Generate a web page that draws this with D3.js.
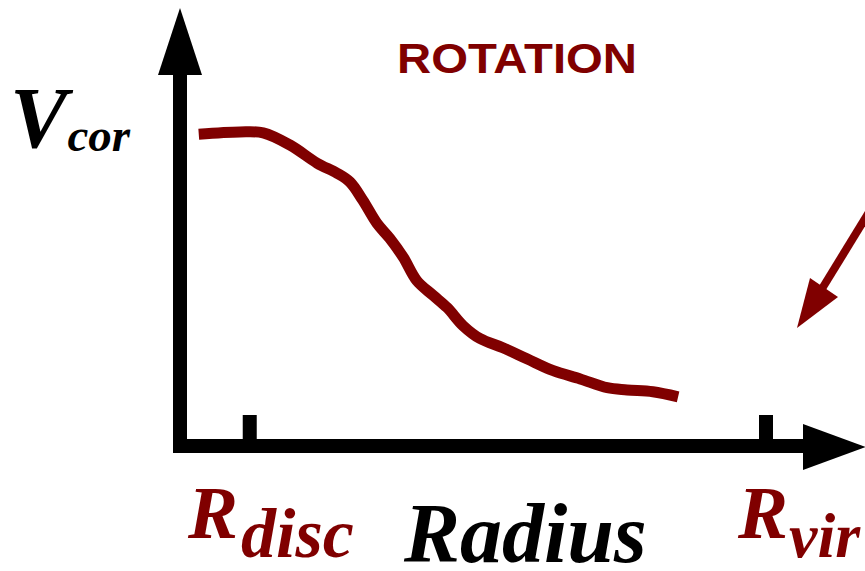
<!DOCTYPE html>
<html>
<head>
<meta charset="utf-8">
<script src="https://cdn.jsdelivr.net/npm/d3@7"></script>
<style>
  html, body { margin: 0; padding: 0; background: #fff; }
  svg { display: block; }
</style>
</head>
<body>
<svg id="chart" width="865" height="571"></svg>
<script>
// rotation curve sketch, radius in units of R_vir, velocity normalised to the peak
var radius = [0.032, 0.102, 0.142, 0.188, 0.234, 0.268, 0.290, 0.312, 0.336, 0.358,
              0.381, 0.404, 0.432, 0.456, 0.483, 0.512, 0.551, 0.592, 0.637, 0.683,
              0.729, 0.763, 0.807, 0.850];
var vcor = [0.990, 0.997, 0.994, 0.955, 0.898, 0.866, 0.838, 0.780, 0.707, 0.659,
            0.599, 0.525, 0.478, 0.439, 0.382, 0.341, 0.312, 0.277, 0.239, 0.213,
            0.185, 0.178, 0.172, 0.156];
var tickRadius = [0.119, 1.0];
var tickNames = ["disc", "vir"];
var title = "ROTATION";
var xTitle = "Radius";
var yTitle = ["V", "cor"];

var red = "#800000";

function drawChart() {
  var svg = d3.select("#chart");

  var x = d3.scaleLinear().domain([0, 1]).range([180, 766]);
  var y = d3.scaleLinear().domain([0, 1]).range([446, 131]);
  var xEnd = x.invert(866), yEnd = y.invert(8);

  // axes (thick lines with arrow heads)
  var axisW = 14;
  svg.append("line")
      .attr("x1", x(0)).attr("y1", y(0) + axisW / 2)
      .attr("x2", x(0)).attr("y2", y(yEnd) + 60)
      .attr("stroke", "#000").attr("stroke-width", axisW);
  svg.append("path")
      .attr("d", "M" + x(0) + "," + y(yEnd) + "L" + (x(0) + 22) + "," + (y(yEnd) + 67) +
                 "L" + (x(0) - 22) + "," + (y(yEnd) + 67) + "Z")
      .attr("fill", "#000");
  svg.append("line")
      .attr("x1", x(0) - axisW / 2).attr("y1", y(0))
      .attr("x2", x(xEnd) - 55).attr("y2", y(0))
      .attr("stroke", "#000").attr("stroke-width", axisW);
  svg.append("path")
      .attr("d", "M" + x(xEnd) + "," + (y(0) + 1) + "L" + (x(xEnd) - 63) + "," + (y(0) - 22) +
                 "L" + (x(xEnd) - 63) + "," + (y(0) + 24) + "Z")
      .attr("fill", "#000");

  // tick marks at R_disc and R_vir
  svg.selectAll("rect.tick")
      .data(tickRadius)
    .enter().append("rect")
      .attr("class", "tick")
      .attr("x", function(d) { return x(d) - 7; })
      .attr("y", 415)
      .attr("width", 14)
      .attr("height", y(0) - 415)
      .attr("fill", "#000");

  // the curve
  var line = d3.line()
      .x(function(d, i) { return x(radius[i]); })
      .y(function(d) { return y(d); })
      .curve(d3.curveCatmullRom.alpha(0.5));
  svg.append("path")
      .datum(vcor)
      .attr("d", line)
      .attr("fill", "none")
      .attr("stroke", red)
      .attr("stroke-width", 11)
      .attr("stroke-linejoin", "round");

  // title
  svg.append("text")
      .attr("x", 397).attr("y", 73)
      .attr("textLength", 240).attr("lengthAdjust", "spacingAndGlyphs")
      .style("font-family", "'Liberation Sans', Arial, sans-serif")
      .style("font-weight", "bold")
      .style("font-size", "42px")
      .attr("fill", red)
      .text(title);

  var serif = "'Liberation Serif', 'Times New Roman', serif";

  // y label V_cor
  var yl = svg.append("text")
      .attr("x", 10).attr("y", 147)
      .style("font-family", serif).style("font-weight", "bold").style("font-style", "italic")
      .attr("fill", "#000");
  yl.append("tspan").style("font-size", "86px").text(yTitle[0]);
  yl.append("tspan").attr("dx", 0).attr("dy", 4).style("font-size", "47px").text(yTitle[1]);

  // x label
  svg.append("text")
      .attr("x", 404).attr("y", 562)
      .style("font-family", serif).style("font-weight", "bold").style("font-style", "italic")
      .style("font-size", "84px")
      .attr("fill", "#000")
      .text(xTitle);

  // R_disc / R_vir labels
  var labelX = [188, 738];
  tickNames.forEach(function(name, i) {
    var t = svg.append("text")
        .attr("x", labelX[i]).attr("y", 538)
        .style("font-family", serif).style("font-weight", "bold").style("font-style", "italic")
        .attr("fill", red);
    t.append("tspan").style("font-size", "75px").text("R");
    t.append("tspan").attr("dx", i == 0 ? 3 : 1).attr("dy", 19)
        .style("font-size", i == 0 ? "70px" : "64px").text(name);
  });

  // arrow pointing in from the right edge
  svg.append("line")
      .attr("x1", 882).attr("y1", 191)
      .attr("x2", 820).attr("y2", 292)
      .attr("stroke", red).attr("stroke-width", 8);
  svg.append("path")
      .attr("d", "M797,328L810,278L838,297Z")
      .attr("fill", red);
}

drawChart();
</script>
</body>
</html>
